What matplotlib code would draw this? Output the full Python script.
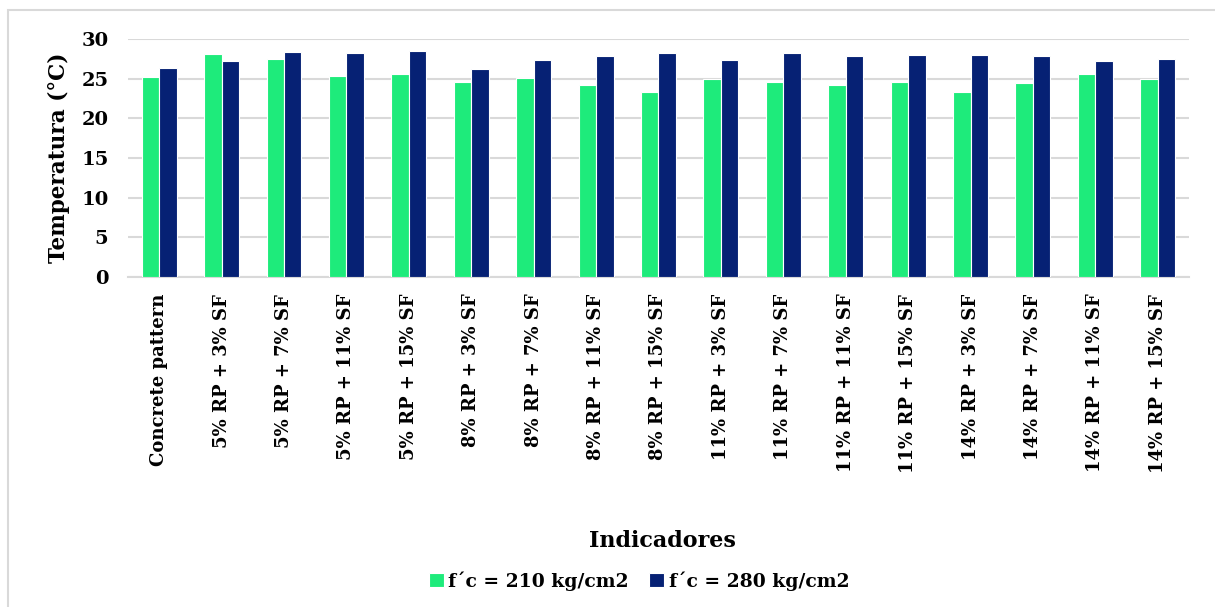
import numpy as np
import matplotlib
matplotlib.use("Agg")
import matplotlib.pyplot as plt
from matplotlib.patches import Rectangle

# mezclas evaluadas
categorias = ["Concrete pattern",
              "5% RP + 3% SF", "5% RP + 7% SF", "5% RP + 11% SF", "5% RP + 15% SF",
              "8% RP + 3% SF", "8% RP + 7% SF", "8% RP + 11% SF", "8% RP + 15% SF",
              "11% RP + 3% SF", "11% RP + 7% SF", "11% RP + 11% SF", "11% RP + 15% SF",
              "14% RP + 3% SF", "14% RP + 7% SF", "14% RP + 11% SF", "14% RP + 15% SF"]

# temperatura (°C) para cada resistencia
temp_210 = [25.2, 28.1, 27.5, 25.3, 25.6, 24.6, 25.1, 24.2, 23.3,
            24.9, 24.6, 24.2, 24.6, 23.3, 24.5, 25.6, 24.9]
temp_280 = [26.4, 27.2, 28.4, 28.2, 28.5, 26.2, 27.4, 27.8, 28.2,
            27.3, 28.2, 27.8, 28.0, 28.0, 27.8, 27.2, 27.5]

serie_210 = "f´c = 210 kg/cm2"
serie_280 = "f´c = 280 kg/cm2"
yticks = [0, 5, 10, 15, 20, 25, 30]

plt.rcParams['font.family'] = ['DejaVu Serif']
plt.rcParams['font.weight'] = 'bold'

fig = plt.figure(figsize=(12.15, 6.07), dpi=100)
ax = fig.add_axes([0.1053, 0.5437, 0.8733, 0.392])

# marco exterior del grafico
fig.patches.append(Rectangle((8 / 1215, -0.05), 1.1, 1 - 10 / 607 + 0.05,
                             transform=fig.transFigure, fill=False,
                             edgecolor="#d9d9d9", linewidth=1.5))

x = np.arange(len(categorias))
w = 0.28
ax.bar(x - w / 2, temp_210, w, color="#1eeb7b", edgecolor="white",
       linewidth=0.8, label=serie_210, zorder=3)
ax.bar(x + w / 2, temp_280, w, color="#062174", edgecolor="white",
       linewidth=0.8, label=serie_280, zorder=3)

ax.set_xlim(-0.5, len(categorias) - 0.5)
ax.set_ylim(0, 30)
ax.set_yticks(yticks)
ax.yaxis.grid(True, color="#d9d9d9", linewidth=1.5, zorder=0)
ax.set_axisbelow(True)
for s in ["top", "right", "left"]:
    ax.spines[s].set_visible(False)
ax.spines["bottom"].set_color("#d9d9d9")
ax.spines["bottom"].set_linewidth(1.5)
ax.tick_params(axis="both", length=0, labelsize=14)
ax.tick_params(axis="y", pad=14)
ax.tick_params(axis="x", pad=12)

ax.set_xticks(x)
ax.set_xticklabels(categorias, rotation=90, fontsize=13, fontweight="bold")
for t in ax.get_yticklabels():
    t.set_fontweight("bold")

ax.set_ylabel("Temperatura (°C)", fontsize=15.5, fontweight="bold", labelpad=8)
fig.text(0.545, 0.108, "Indicadores", ha="center", va="center",
         fontsize=16, fontweight="bold")

fig.legend(loc="center", bbox_to_anchor=(0.526, 0.043), ncol=2, frameon=False,
           handlelength=0.8, handleheight=0.8,
           handletextpad=0.25, columnspacing=1.1, prop={"weight": "bold", "size": 13.5})

fig.savefig("out.png", dpi=100, facecolor="white")
